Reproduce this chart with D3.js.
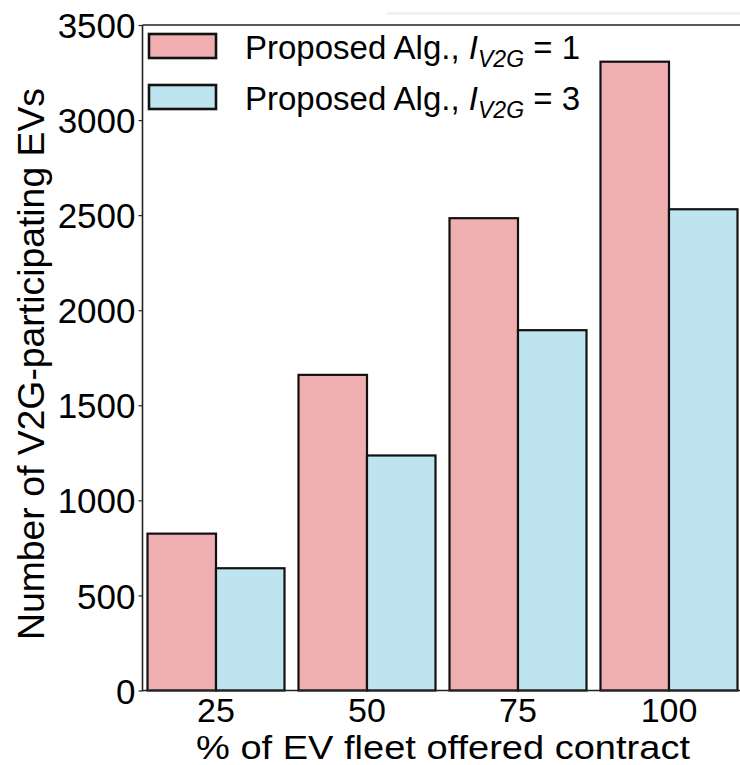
<!DOCTYPE html>
<html>
<head>
<meta charset="utf-8">
<script src="https://cdn.jsdelivr.net/npm/d3@7"></script>
<style>
  html, body { margin: 0; padding: 0; background: #fff; }
  svg { display: block; font-family: "Liberation Sans", Arial, Helvetica, sans-serif; }
</style>
</head>
<body>
<svg id="chart" width="740" height="765"></svg>
<script>
// Share of the EV fleet that is offered a V2G contract (%)
const categories = ["25", "50", "75", "100"];
// Series keys and their legend labels (main text, subscript, trailing text)
const seriesKeys = ["iv2g1", "iv2g3"];
const seriesLabels = [
  { main: "Proposed Alg., ", sym: "I", sub: "V2G", tail: " = 1" },
  { main: "Proposed Alg., ", sym: "I", sub: "V2G", tail: " = 3" }
];
// Number of V2G-participating EVs per series
const iv2g1Values = [825, 1660, 2484, 3307];
const iv2g3Values = [643, 1236, 1895, 2531];
// Y-axis tick values
const yTicks = [0, 500, 1000, 1500, 2000, 2500, 3000, 3500];

const seriesColors = ["#efafb1", "#bee5ef"];

const data = categories.map((c, i) => ({
  cat: c,
  iv2g1: iv2g1Values[i],
  iv2g3: iv2g3Values[i]
}));

const svg = d3.select("#chart");

const plot = { left: 142.5, right: 742.5, top: 25, bottom: 690.5 };

const x = d3.scaleBand()
  .domain(categories)
  .range([plot.left, plot.right])
  .paddingInner(0.0927)
  .paddingOuter(0.0331);

const xs = d3.scaleBand()
  .domain(seriesKeys)
  .range([0, x.bandwidth()])
  .padding(0);

const y = d3.scaleLinear()
  .domain([0, 3500])
  .range([plot.bottom, plot.top]);

// faint line above the frame
svg.append("line")
  .attr("x1", 388).attr("x2", 740)
  .attr("y1", 13.5).attr("y2", 13.5)
  .attr("stroke", "#ececec")
  .attr("stroke-width", 2)
  .attr("stroke-linecap", "round");

// bars
const groups = svg.append("g")
  .selectAll("g")
  .data(data)
  .join("g")
  .attr("transform", d => `translate(${x(d.cat)},0)`);

groups.selectAll("rect")
  .data(d => seriesKeys.map((k, i) => ({ key: k, value: d[k], idx: i })))
  .join("rect")
  .attr("x", d => xs(d.key))
  .attr("y", d => y(d.value))
  .attr("width", xs.bandwidth())
  .attr("height", d => y(0) - y(d.value))
  .attr("fill", d => seriesColors[d.idx])
  .attr("stroke", "#111")
  .attr("stroke-width", 2.2);

// y axis
const yAxis = svg.append("g")
  .attr("transform", `translate(${plot.left},0)`)
  .call(d3.axisLeft(y).tickValues(yTicks).tickFormat(d3.format("d"))
    .tickSize(4).tickSizeOuter(0).tickPadding(3));
yAxis.select(".domain").remove();
yAxis.selectAll(".tick line").attr("stroke", "#222").attr("stroke-width", 1.2);
yAxis.selectAll(".tick text")
  .attr("font-size", 35)
  .attr("fill", "#000")
  .attr("dy", "0.36em");

// x axis
const xAxis = svg.append("g")
  .attr("transform", `translate(0,${plot.bottom})`)
  .call(d3.axisBottom(x).tickSize(0).tickPadding(7));
xAxis.select(".domain").remove();
xAxis.selectAll(".tick text")
  .attr("font-size", 34)
  .attr("fill", "#000")
  .attr("dy", "0.71em");

// frame: left, bottom, top spines
const spine = svg.append("g").attr("stroke", "#222").attr("stroke-width", 1.6).attr("fill", "none");
spine.append("line").attr("x1", plot.left).attr("x2", plot.left).attr("y1", plot.top).attr("y2", plot.bottom + 0.8);
spine.append("line").attr("x1", plot.left).attr("x2", 740).attr("y1", plot.bottom).attr("y2", plot.bottom);
spine.append("line").attr("x1", plot.left).attr("x2", 740).attr("y1", plot.top).attr("y2", plot.top);

// axis titles
svg.append("text")
  .attr("x", 443)
  .attr("y", 759)
  .attr("text-anchor", "middle")
  .attr("font-size", 33)
  .attr("textLength", 494)
  .attr("lengthAdjust", "spacingAndGlyphs")
  .text("% of EV fleet offered contract");

svg.append("text")
  .attr("transform", "translate(44,364) rotate(-90)")
  .attr("text-anchor", "middle")
  .attr("font-size", 37)
  .attr("textLength", 552)
  .attr("lengthAdjust", "spacingAndGlyphs")
  .text("Number of V2G-participating EVs");

// legend
const legend = svg.append("g");
const rowY = [34, 85];
seriesLabels.forEach((lab, i) => {
  const g = legend.append("g").attr("transform", `translate(0,${rowY[i]})`);
  g.append("rect")
    .attr("x", 149).attr("y", 0)
    .attr("width", 67).attr("height", 24)
    .attr("fill", seriesColors[i])
    .attr("stroke", "#111")
    .attr("stroke-width", 2.6);
  const t = g.append("text")
    .attr("x", 245).attr("y", 25)
    .attr("font-size", 33)
    .attr("fill", "#000");
  t.append("tspan").text(lab.main);
  t.append("tspan").attr("font-style", "italic").text(lab.sym);
  t.append("tspan").attr("font-style", "italic").attr("font-size", 23).attr("dy", 8).text(lab.sub);
  t.append("tspan").attr("dy", -8).text(lab.tail);
});
</script>
</body>
</html>
